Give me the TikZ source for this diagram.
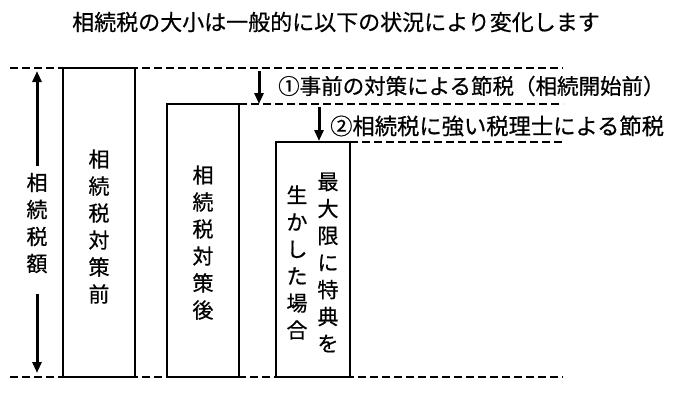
\documentclass[tikz,border=0pt]{standalone}
\usepackage{fontspec}
\newfontfamily\jp[FakeBold=0.6]{Noto Sans CJK JP}
\usetikzlibrary{arrows.meta,positioning,calc}
\tikzset{>=Latex,bar/.style={draw,line width=2pt,inner sep=0pt,outer sep=0pt,anchor=north west,minimum width=72pt},guide/.style={line width=1.8pt,dash pattern=on 8pt off 4pt},arr/.style={-{Triangle[width=9pt,length=11pt]},line width=3pt},vtext/.style={font=\jp\fontsize{21}{27}\selectfont,align=center,inner sep=0pt},lbl/.style={font=\jp\fontsize{21.5}{26}\selectfont,anchor=west,inner sep=0pt}}

\begin{document}
\begin{tikzpicture}[x=1pt,y=-1pt]
\useasboundingbox (0,0) rectangle (690,400);
\node[font=\jp\fontsize{22}{26}\selectfont] (ttl) at (336,22) {相続税の大小は一般的に以下の状況により変化します};
\coordinate (l0) at (10,68); \coordinate (r0) at (563,68);
\coordinate (l3) at (10,377); \coordinate (r3) at (563,377);
\node[bar,minimum height=309pt] (b1) at (63,68) {};
\node[bar,minimum height=273pt] (b2) at (167,104) {};
\node[bar,minimum height=235pt,minimum width=74pt] (b3) at (276,142) {};
\draw[guide] (l0) -- (r0);
\draw[guide] (b2.north east) -- (b2.north east -| r0);
\draw[guide] (b3.north east) -- (b3.north east -| r0);
\draw[guide] (l3) -- (r3);
\node[vtext] (t1) at ([yshift=-4pt]b1.center) {相\\続\\税\\対\\策\\前};
\node[vtext] (t2) at ([yshift=-2pt]b2.center) {相\\続\\税\\対\\策\\後};
\node[vtext] (t3a) at ([xshift=15pt,yshift=-3pt]b3.center) {最\\大\\限\\に\\特\\典\\を};
\node[vtext] (t3b) at ([xshift=-16pt,yshift=-3pt]b3.center) {生\\か\\し\\た\\場\\合};
\node[vtext] (amt) at (37,223) {相\\続\\税\\額};
\draw[arr] ($(amt.north)+(0,-7)$) -- ($(amt.north |- l0)+(0,3)$);
\draw[arr] ($(amt.south)+(0,21)$) -- ($(amt.south |- l3)+(0,-4)$);
\coordinate (a1) at (259,71);
\coordinate (a2) at (319,107);
\draw[arr] (a1) -- (a1 |- b2.north);
\draw[arr] (a2) -- ($(a2 |- b3.north)+(0,-1)$);
\node[lbl] (n1) at (278,86) {①事前の対策による節税（相続開始前）};
\node[lbl,font=\jp\fontsize{22.3}{26}\selectfont] (n2) at (330,126) {②相続税に強い税理士による節税};
\end{tikzpicture}
\end{document}
